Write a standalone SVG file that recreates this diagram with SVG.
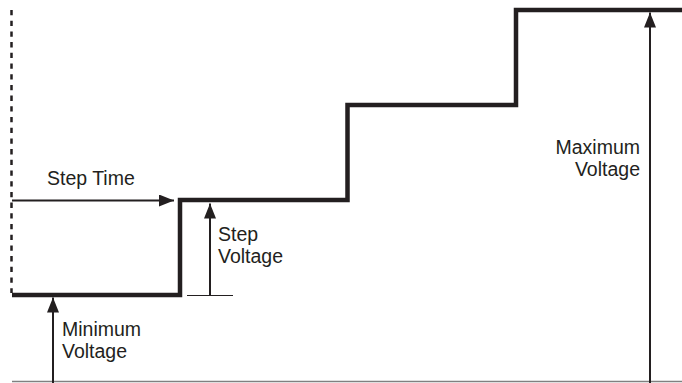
<svg xmlns="http://www.w3.org/2000/svg" width="682" height="383" viewBox="0 0 682 383">
<style>
.stair{fill:none;stroke:#231f20;stroke-width:4.5;stroke-linejoin:miter;stroke-linecap:butt}
.dash{fill:none;stroke:#231f20;stroke-width:2.5;stroke-dasharray:5.3 5.4}
.base{fill:none;stroke:#808080;stroke-width:1.6}
.arr{fill:none;stroke:#231f20;stroke-width:2}
.thin{fill:none;stroke:#231f20;stroke-width:1.2}
text{font-family:"Liberation Sans",Arial,sans-serif;font-size:19.5px;fill:#231f20}
</style>
<defs>
<marker id="ah" viewBox="0 0 15 12" refX="15" refY="6" markerWidth="15" markerHeight="12" markerUnits="userSpaceOnUse" orient="auto">
<path d="M0,0 L15,6 L0,12 Z" fill="#231f20"/>
</marker>
</defs>
<g id="axes">
<line class="dash" x1="11.5" y1="10" x2="11.5" y2="293"/>
<line class="base" x1="12" y1="381.5" x2="682" y2="381.5"/>
</g>
<g id="staircase">
<path class="stair" d="M12 295 H180 V200 H347.5 V105 H516 V10 H682"/>
</g>
<g id="connectors">
<line class="arr" x1="12" y1="200.5" x2="174" y2="200.5" marker-end="url(#ah)"/>
<line class="arr" x1="210" y1="295" x2="210" y2="203.5" marker-end="url(#ah)"/>
<line class="thin" x1="187" y1="295.5" x2="233" y2="295.5"/>
<line class="arr" x1="53" y1="383" x2="53" y2="297.5" marker-end="url(#ah)"/>
<line class="arr" x1="650" y1="383" x2="650" y2="12.5" marker-end="url(#ah)"/>
</g>
<g id="label-step-time">
<text x="47" y="185">Step Time</text>
</g>
<g id="label-step-voltage">
<text x="218" y="241">Step</text>
<text x="218" y="263">Voltage</text>
</g>
<g id="label-minimum-voltage">
<text x="62" y="336">Minimum</text>
<text x="62" y="358">Voltage</text>
</g>
<g id="label-maximum-voltage">
<text x="640" y="154" text-anchor="end">Maximum</text>
<text x="640" y="176" text-anchor="end">Voltage</text>
</g>
</svg>
